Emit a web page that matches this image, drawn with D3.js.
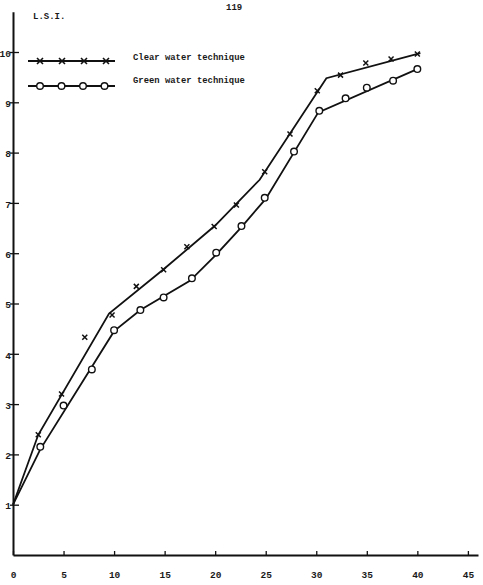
<!DOCTYPE html>
<html>
<head>
<meta charset="utf-8">
<script src="https://cdn.jsdelivr.net/npm/d3@7"></script>
<style>
  body { margin: 0; background: #fff; }
  text { font-family: "Liberation Mono", "DejaVu Sans Mono", monospace; font-weight: bold; fill: #1a1a1a; }
</style>
</head>
<body>
<div id="chart"></div>
<script>
// measured points (x = time, y = L.S.I.)
var clearX = [2.5, 4.8, 7.1, 9.8, 12.2, 14.9, 17.2, 19.9, 22.1, 24.9, 27.4, 30.1, 32.4, 34.9, 37.4, 40];
var clearY = [2.39, 3.2, 4.33, 4.77, 5.34, 5.67, 6.13, 6.53, 6.96, 7.62, 8.37, 9.23, 9.54, 9.78, 9.86, 9.96];
var greenX = [2.7, 5, 7.8, 10, 12.6, 14.9, 17.7, 20.1, 22.6, 24.9, 27.8, 30.3, 32.9, 35, 37.6, 40];
var greenY = [2.15, 2.97, 3.69, 4.47, 4.87, 5.12, 5.5, 6.01, 6.54, 7.1, 8.02, 8.83, 9.08, 9.29, 9.43, 9.66];

// hand fitted lines
var clearLineX = [0, 2.5, 9.5, 14.9, 20, 24.4, 31, 40.3];
var clearLineY = [1, 2.39, 4.8, 5.68, 6.55, 7.46, 9.48, 9.98];
var greenLineX = [0, 2.7, 10, 12.6, 17.5, 20, 22.6, 25, 30.2, 40.1];
var greenLineY = [1, 2.1, 4.45, 4.87, 5.45, 5.95, 6.52, 7.08, 8.8, 9.67];

var xTicks = [0, 5, 10, 15, 20, 25, 30, 35, 40, 45];
var yTicks = [1, 2, 3, 4, 5, 6, 7, 8, 9, 10];
var seriesNames = ["Clear water technique", "Green water technique"];

var margin = {top: 12, right: 5, bottom: 30, left: 13},
    width = 483 - margin.left - margin.right,
    height = 585 - margin.top - margin.bottom;

var svg = d3.select("#chart")
  .append("svg")
    .attr("width", 483)
    .attr("height", 585)
  .append("g")
    .attr("transform", "translate(" + margin.left + "," + margin.top + ")");

var x = d3.scaleLinear()
  .domain([0, 46])
  .range([0, 465]);

var y = d3.scaleLinear()
  .domain([0, 10.8])
  .range([height, height - 10.8 * 50.3]);

// X axis
var xAxis = svg.append("g")
  .attr("transform", "translate(0," + height + ")")
  .call(d3.axisBottom(x).tickValues(xTicks).tickSizeInner(-4).tickSizeOuter(0).tickPadding(16));
xAxis.select(".domain").attr("stroke", "#111").attr("stroke-width", 2);
xAxis.selectAll(".tick line").attr("stroke", "#111").attr("stroke-width", 1.3);
xAxis.selectAll("text").style("font-size", "9.5px").attr("fill", "#1a1a1a");

// Y axis
var yAxis = svg.append("g")
  .call(d3.axisLeft(y).tickValues(yTicks).tickSizeInner(-6).tickSizeOuter(0).tickPadding(2));
yAxis.select(".domain").attr("stroke", "#111").attr("stroke-width", 2);
yAxis.selectAll(".tick line").attr("x1", -3).attr("stroke", "#111").attr("stroke-width", 1.3);
yAxis.selectAll("text").style("font-size", "9.5px").attr("fill", "#1a1a1a").attr("dy", "0.45em");

// labels
svg.append("text")
  .attr("x", 20)
  .attr("y", 7)
  .style("font-size", "9px")
  .text("L.S.I.");

svg.append("text")
  .attr("x", 213)
  .attr("y", -2)
  .style("font-size", "9px")
  .text("119");

var line = d3.line()
  .x(function(d) { return x(d[0]); })
  .y(function(d) { return y(d[1]); });

svg.append("path")
  .datum(d3.zip(clearLineX, clearLineY))
  .attr("fill", "none")
  .attr("stroke", "#111")
  .attr("stroke-width", 1.8)
  .attr("d", line);

svg.append("path")
  .datum(d3.zip(greenLineX, greenLineY))
  .attr("fill", "none")
  .attr("stroke", "#111")
  .attr("stroke-width", 1.8)
  .attr("d", line);

var cross = "M-2.5,-2.5L2.5,2.5M-2.5,2.5L2.5,-2.5";

svg.append("g")
  .selectAll("path")
  .data(d3.zip(clearX, clearY))
  .enter()
  .append("path")
    .attr("transform", function(d) { return "translate(" + x(d[0]) + "," + y(d[1]) + ")"; })
    .attr("d", cross)
    .attr("stroke", "#111")
    .attr("stroke-width", 1.5);

svg.append("g")
  .selectAll("circle")
  .data(d3.zip(greenX, greenY))
  .enter()
  .append("circle")
    .attr("cx", function(d) { return x(d[0]); })
    .attr("cy", function(d) { return y(d[1]); })
    .attr("r", 3.3)
    .attr("fill", "#fff")
    .attr("stroke", "#111")
    .attr("stroke-width", 1.4);

// legend
var legend = svg.append("g").attr("transform", "translate(15,49)");
legend.selectAll("line")
  .data(seriesNames)
  .enter()
  .append("line")
    .attr("x1", 0).attr("x2", 87)
    .attr("y1", function(d, i) { return i * 25; })
    .attr("y2", function(d, i) { return i * 25; })
    .attr("stroke", "#111")
    .attr("stroke-width", 1.8);

legend.selectAll(".lx")
  .data(d3.range(4))
  .enter()
  .append("path")
    .attr("transform", function(d) { return "translate(" + (12 + d * 22) + ",0)"; })
    .attr("d", "M-3,-3L3,3M-3,3L3,-3")
    .attr("stroke", "#111")
    .attr("stroke-width", 1.6);

legend.selectAll(".lo")
  .data(d3.range(4))
  .enter()
  .append("circle")
    .attr("cx", function(d) { return 12 + d * 21.5; })
    .attr("cy", 25)
    .attr("r", 3.3)
    .attr("fill", "#fff")
    .attr("stroke", "#111")
    .attr("stroke-width", 1.4);

legend.selectAll("text")
  .data(seriesNames)
  .enter()
  .append("text")
    .attr("x", 105)
    .attr("y", function(d, i) { return i * 23 - 1; })
    .style("font-size", "8.9px")
    .text(function(d) { return d; });
</script>
</body>
</html>
